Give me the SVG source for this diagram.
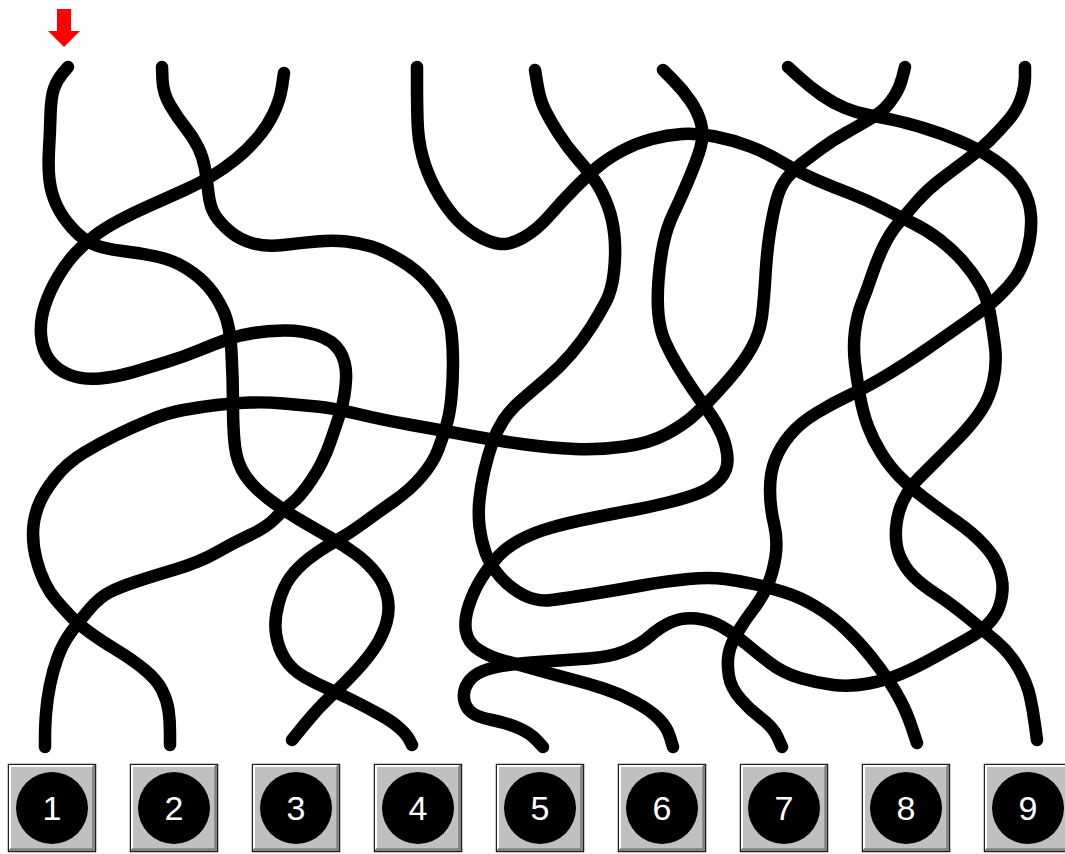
<svg xmlns="http://www.w3.org/2000/svg" width="1065" height="854" viewBox="0 0 1065 854">
<style>
.w{fill:none;stroke:#000;stroke-width:12.5;stroke-linecap:round;stroke-linejoin:round}
.box{fill:#c0c0c0;stroke:#202020;stroke-width:1.5}
.hi{fill:none;stroke:#fff;stroke-width:2}
.sh{fill:none;stroke:#808080;stroke-width:2.5}
.ball{fill:#000}
.num{fill:#fff;font-family:"Liberation Sans",Arial,sans-serif;font-size:34px;text-anchor:middle}
</style>
<rect width="1065" height="854" fill="#fff"/>
<g id="start-arrow"><polygon points="57,9 71,9 71,31 80,31 64,47 48,31 57,31" fill="#ff0000"/></g>
<g id="connectors">
<path class="w" d="M68,67 L62.5,73.5 Q57,80 54,88.5 Q51,97 50.5,115 Q50,133 49,150 Q48,167 49.5,180 Q51,193 56.5,205 Q62,217 72.5,228.5 Q83,240 94,244.5 Q105,249 122.5,251 Q140,253 156.5,256.5 Q173,260 186.5,268.5 Q200,277 208.5,287 Q217,297 223.5,311 Q230,325 231.5,352.5 Q233,380 233,405 Q233,430 235,446.5 Q237,463 245,475 Q253,487 268,498.5 Q283,510 300,520 Q317,530 331,538 Q345,546 356.5,554.5 Q368,563 376.5,574 Q385,585 387.5,597.5 Q390,610 386.5,622.5 Q383,635 375.5,646.5 Q368,658 356.5,670.5 Q345,683 331.5,695.5 Q318,708 305,724 L292,740"/>
<path class="w" d="M162,67 L162.5,80 Q163,93 170,105 Q177,117 185,127 Q193,137 198,147 Q203,157 205,168.5 Q207,180 208.5,193.5 Q210,207 215,215 Q220,223 230,231.5 Q240,240 253.5,243.5 Q267,247 283.5,245 Q300,243 316.5,241.5 Q333,240 346.5,241.5 Q360,243 371.5,246.5 Q383,250 400,260 Q417,270 428.5,283.5 Q440,297 445,308.5 Q450,320 451.5,333.5 Q453,347 453,363.5 Q453,380 451.5,396.5 Q450,413 446.5,425 Q443,437 438,450 Q433,463 421.5,476.5 Q410,490 393.5,501.5 Q377,513 363.5,523 Q350,533 335,541.5 Q320,550 309,558.5 Q298,567 290.5,577 Q283,587 278.5,603.5 Q274,620 276,634 Q278,648 285,659 Q292,670 304.5,677 Q317,684 328.5,689 Q340,694 354,701 Q368,708 380.5,715 Q393,722 400,728.5 Q407,735 409.5,740 L412,745"/>
<path class="w" d="M284,73 L282,86.5 Q280,100 273.5,113.5 Q267,127 257,138.5 Q247,150 236,159 Q225,168 212.5,175.5 Q200,183 183.5,190.5 Q167,198 150,205.5 Q133,213 119,220.5 Q105,228 95,235.5 Q85,243 76,252.5 Q67,262 58.5,276 Q50,290 45,305 Q40,320 41,335 Q42,350 49.5,360 Q57,370 70,375 Q83,380 100,378.5 Q117,377 133.5,372 Q150,367 166.5,362 Q183,357 200,350 Q217,343 228.5,339 Q240,335 253.5,333 Q267,331 283.5,330.5 Q300,330 316.5,335 Q333,340 340,351.5 Q347,363 346,380 Q345,397 341,410 Q337,423 330,443 Q323,463 311.5,480 Q300,497 291.5,503.5 Q283,510 275,518.5 Q267,527 250,535 Q233,543 216.5,552.5 Q200,562 175,569.5 Q150,577 135,582 Q120,587 110,592 Q100,597 90,608.5 Q80,620 71.5,631.5 Q63,643 58,656.5 Q53,670 50,685 Q47,700 46,713.5 Q45,727 45,737 L45,747"/>
<path class="w" d="M417,67 L417,83.5 Q417,100 417.5,120 Q418,140 422.5,156.5 Q427,173 435,188 Q443,203 453,215 Q463,227 476.5,235 Q490,243 500,244 Q510,245 523.5,237.5 Q537,230 550,215 Q563,200 576.5,186.5 Q590,173 600,165 Q610,157 623.5,150 Q637,143 652,139 Q667,135 682,134 Q697,133 715,136.5 Q733,140 750,146.5 Q767,153 783.5,163 Q800,173 816.5,180 Q833,187 850,193.5 Q867,200 883.5,208.5 Q900,217 913.5,223.5 Q927,230 940,240 Q953,250 963,261.5 Q973,273 980,285 Q987,297 990,313.5 Q993,330 995,346.5 Q997,363 993.5,380 Q990,397 981.5,410 Q973,423 960,436.5 Q947,450 937,460 Q927,470 918.5,478.5 Q910,487 903.5,500 Q897,513 896,529 Q895,545 900,556.5 Q905,568 913.5,576.5 Q922,585 936,594 Q950,603 966.5,616.5 Q983,630 996.5,641.5 Q1010,653 1018.5,668 Q1027,683 1030,696.5 Q1033,710 1035,725 L1037,740"/>
<path class="w" d="M535,70 L537.5,85 Q540,100 545,110 Q550,120 558.5,133.5 Q567,147 578.5,160 Q590,173 596.5,183 Q603,193 608,206.5 Q613,220 614.5,236.5 Q616,253 614,271.5 Q612,290 606,301.5 Q600,313 591.5,326.5 Q583,340 571.5,353.5 Q560,367 546.5,378.5 Q533,390 521.5,400 Q510,410 503.5,420 Q497,430 492.5,442.5 Q488,455 484.5,470 Q481,485 479.5,499 Q478,513 479.5,526.5 Q481,540 485.5,552.5 Q490,565 500,576.5 Q510,588 523.5,595 Q537,602 552,600 Q567,598 592,594 Q617,590 642,585.5 Q667,581 688.5,579 Q710,577 725,579 Q740,581 753.5,584 Q767,587 783.5,592 Q800,597 816.5,607 Q833,617 846.5,630 Q860,643 870,655.5 Q880,668 887.5,679 Q895,690 901,701.5 Q907,713 912,728 L917,743"/>
<path class="w" d="M663,70 L673,80 Q683,90 690.5,101 Q698,112 701,123.5 Q704,135 700.5,147.5 Q697,160 688.5,180 Q680,200 673.5,213.5 Q667,227 663.5,243.5 Q660,260 658.5,280 Q657,300 658.5,315 Q660,330 665,341.5 Q670,353 677.5,365.5 Q685,378 692.5,389 Q700,400 708.5,411.5 Q717,423 722,435 Q727,447 727.5,458.5 Q728,470 720.5,478.5 Q713,487 701.5,492 Q690,497 670,502 Q650,507 633.5,510 Q617,513 592,518 Q567,523 550,528 Q533,533 520,540 Q507,547 498.5,556 Q490,565 482,577.5 Q474,590 469,605 Q464,620 466,631.5 Q468,643 479,650 Q490,657 505,661 Q520,665 537.5,670 Q555,675 572.5,679.5 Q590,684 605,689 Q620,694 635,702 Q650,710 658.5,718.5 Q667,727 670,737 L673,747"/>
<path class="w" d="M788,67 L799,77 Q810,87 821.5,95 Q833,103 845,108 Q857,113 868.5,115 Q880,117 893.5,120 Q907,123 923.5,128 Q940,133 958.5,140.5 Q977,148 995,160.5 Q1013,173 1021.5,186.5 Q1030,200 1031,216.5 Q1032,233 1027.5,250 Q1023,267 1015.5,277.5 Q1008,288 997.5,297.5 Q987,307 968.5,320 Q950,333 928.5,348 Q907,363 887,375 Q867,387 850,395 Q833,403 816.5,413 Q800,423 790,435 Q780,447 775,460 Q770,473 770,490 Q770,507 774,523.5 Q778,540 775.5,556.5 Q773,573 767.5,585.5 Q762,598 753.5,609 Q745,620 737.5,632.5 Q730,645 728.5,655 Q727,665 729,676.5 Q731,688 740.5,699 Q750,710 761.5,718.5 Q773,727 777.5,737 L782,747"/>
<path class="w" d="M905,67 L902.5,77 Q900,87 895,95 Q890,103 885,108 Q880,113 870,119 Q860,125 846.5,132.5 Q833,140 821.5,148.5 Q810,157 801.5,163.5 Q793,170 786.5,178.5 Q780,187 776.5,200 Q773,213 770,231.5 Q767,250 765.5,275 Q764,300 762,316.5 Q760,333 751.5,348 Q743,363 730,378 Q717,393 708.5,401.5 Q700,410 691.5,417.5 Q683,425 666.5,434 Q650,443 625,446.5 Q600,450 575,449 Q550,448 521.5,444 Q493,440 466.5,435 Q440,430 411.5,425 Q383,420 358,414 Q333,408 316.5,406.5 Q300,405 283.5,403.5 Q267,402 250,402.5 Q233,403 216.5,405 Q200,407 183.5,410 Q167,413 150,420 Q133,427 116.5,435 Q100,443 83.5,453 Q67,463 55,478 Q43,493 38,506.5 Q33,520 33,533.5 Q33,547 36.5,560 Q40,573 45,583 Q50,593 56,600 Q62,607 69.5,615 Q77,623 88.5,631.5 Q100,640 116.5,650 Q133,660 145,670 Q157,680 162,690 Q167,700 168.5,710 Q170,720 170,732.5 L170,745"/>
<path class="w" d="M1025,67 L1025,77 Q1025,87 1021,98.5 Q1017,110 1008.5,120 Q1000,130 990,140 Q980,150 966.5,160 Q953,170 940,180 Q927,190 917,201.5 Q907,213 898.5,223 Q890,233 883.5,246.5 Q877,260 872,275 Q867,290 862,302.5 Q857,315 855,331 Q853,347 855,363.5 Q857,380 860,396.5 Q863,413 868,426.5 Q873,440 881.5,453.5 Q890,467 900,477 Q910,487 925,498.5 Q940,510 956.5,521.5 Q973,533 984,545 Q995,557 999,568.5 Q1003,580 1002.5,590 Q1002,600 998.5,608.5 Q995,617 987.5,624.5 Q980,632 966.5,639.5 Q953,647 935,657 Q917,667 902,673.5 Q887,680 868.5,683.5 Q850,687 833.5,685 Q817,683 800,678 Q783,673 770,663 Q757,653 745,643 Q733,633 721.5,626.5 Q710,620 696.5,618.5 Q683,617 671.5,622 Q660,627 650,636 Q640,645 625,651 Q610,657 588.5,658.5 Q567,660 545,661.5 Q523,663 508,665 Q493,667 483,671 Q473,675 468,682.5 Q463,690 464,698.5 Q465,707 471,712 Q477,717 492,720 Q507,723 518.5,728 Q530,733 536.5,740 L543,747"/>
</g>
<g id="btn1"><rect class="box" x="8.5" y="764.5" width="87" height="87"/><polyline class="hi" points="10,849 10,766 93,766"/><polyline class="sh" points="93.5,766 93.5,849.5 10,849.5"/><circle class="ball" cx="52" cy="808" r="36"/><text class="num" x="52" y="820">1</text></g>
<g id="btn2"><rect class="box" x="130.5" y="764.5" width="87" height="87"/><polyline class="hi" points="132,849 132,766 215,766"/><polyline class="sh" points="215.5,766 215.5,849.5 132,849.5"/><circle class="ball" cx="174" cy="808" r="36"/><text class="num" x="174" y="820">2</text></g>
<g id="btn3"><rect class="box" x="252.5" y="764.5" width="87" height="87"/><polyline class="hi" points="254,849 254,766 337,766"/><polyline class="sh" points="337.5,766 337.5,849.5 254,849.5"/><circle class="ball" cx="296" cy="808" r="36"/><text class="num" x="296" y="820">3</text></g>
<g id="btn4"><rect class="box" x="374.5" y="764.5" width="87" height="87"/><polyline class="hi" points="376,849 376,766 459,766"/><polyline class="sh" points="459.5,766 459.5,849.5 376,849.5"/><circle class="ball" cx="418" cy="808" r="36"/><text class="num" x="418" y="820">4</text></g>
<g id="btn5"><rect class="box" x="496.5" y="764.5" width="87" height="87"/><polyline class="hi" points="498,849 498,766 581,766"/><polyline class="sh" points="581.5,766 581.5,849.5 498,849.5"/><circle class="ball" cx="540" cy="808" r="36"/><text class="num" x="540" y="820">5</text></g>
<g id="btn6"><rect class="box" x="618.5" y="764.5" width="87" height="87"/><polyline class="hi" points="620,849 620,766 703,766"/><polyline class="sh" points="703.5,766 703.5,849.5 620,849.5"/><circle class="ball" cx="662" cy="808" r="36"/><text class="num" x="662" y="820">6</text></g>
<g id="btn7"><rect class="box" x="740.5" y="764.5" width="87" height="87"/><polyline class="hi" points="742,849 742,766 825,766"/><polyline class="sh" points="825.5,766 825.5,849.5 742,849.5"/><circle class="ball" cx="784" cy="808" r="36"/><text class="num" x="784" y="820">7</text></g>
<g id="btn8"><rect class="box" x="862.5" y="764.5" width="87" height="87"/><polyline class="hi" points="864,849 864,766 947,766"/><polyline class="sh" points="947.5,766 947.5,849.5 864,849.5"/><circle class="ball" cx="906" cy="808" r="36"/><text class="num" x="906" y="820">8</text></g>
<g id="btn9"><rect class="box" x="984.5" y="764.5" width="87" height="87"/><polyline class="hi" points="986,849 986,766 1069,766"/><polyline class="sh" points="1069.5,766 1069.5,849.5 986,849.5"/><circle class="ball" cx="1028" cy="808" r="36"/><text class="num" x="1028" y="820">9</text></g>
</svg>
